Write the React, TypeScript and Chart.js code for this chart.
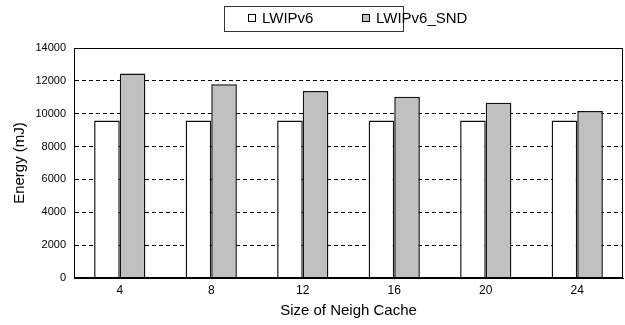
import React, { useEffect, useRef } from 'react';
import { Chart, registerables } from 'chart.js';

Chart.register(...registerables);

const categories = ['4', '8', '12', '16', '20', '24'];
const seriesLabels = ['LWIPv6', 'LWIPv6_SND'];
const lwipv6 = [9580, 9580, 9580, 9580, 9580, 9580];
const lwipv6Snd = [12450, 11800, 11390, 11040, 10660, 10170];
const yMin = 0;
const yMax = 14000;
const yStep = 2000;
const xTitle = 'Size of Neigh Cache';
const yTitle = 'Energy (mJ)';

const FONT = "'Liberation Sans', Arial, sans-serif";

const framePlugin = {
  id: 'frame',
  afterDatasetsDraw(chart: any) {
    const { ctx, chartArea } = chart;
    ctx.save();
    ctx.strokeStyle = '#000';
    ctx.lineWidth = 1;
    ctx.setLineDash([]);
    const l = Math.round(chartArea.left) + 0.5;
    const t = Math.round(chartArea.top) + 0.5;
    const r = Math.round(chartArea.right) - 0.5;
    const b = Math.round(chartArea.bottom) - 0.5;
    ctx.strokeRect(l, t, r - l, b - t);
    ctx.restore();
  },
};

const legendPlugin = {
  id: 'boxLegend',
  afterDraw(chart: any) {
    const { ctx } = chart;
    const ds = chart.data.datasets;
    ctx.save();
    ctx.setLineDash([]);
    ctx.strokeStyle = '#333';
    ctx.lineWidth = 1;
    ctx.strokeRect(224.5, 6.5, 179, 25);
    ctx.font = `15px ${FONT}`;
    ctx.textBaseline = 'middle';
    ctx.textAlign = 'left';
    ds.forEach((d: any, i: number) => {
      const x = 248 + i * 114;
      ctx.fillStyle = d.backgroundColor;
      ctx.fillRect(x, 14, 8, 8);
      ctx.strokeStyle = '#000';
      ctx.strokeRect(x + 0.5, 14.5, 7, 7);
      ctx.fillStyle = '#000';
      ctx.fillText(d.label, x + 14, 18.5);
    });
    ctx.restore();
  },
};

export default function App() {
  const canvasRef = useRef<HTMLCanvasElement | null>(null);

  useEffect(() => {
    if (!canvasRef.current) return;
    const chart = new Chart(canvasRef.current, {
      type: 'bar',
      data: {
        labels: categories,
        datasets: [
          {
            label: seriesLabels[0],
            data: lwipv6,
            backgroundColor: '#ffffff',
            borderColor: '#111',
            borderWidth: 1.5,
            categoryPercentage: 0.56,
            barPercentage: 1.0,
          },
          {
            label: seriesLabels[1],
            data: lwipv6Snd,
            backgroundColor: '#c0c0c0',
            borderColor: '#111',
            borderWidth: 1.5,
            categoryPercentage: 0.56,
            barPercentage: 1.0,
          },
        ],
      },
      options: {
        animation: false,
        responsive: true,
        maintainAspectRatio: false,
        layout: { padding: { left: 0, right: 2, top: 48, bottom: 0 } },
        plugins: {
          legend: { display: false },
          tooltip: { enabled: false },
        },
        scales: {
          x: {
            grid: { display: false, drawTicks: false },
            border: { display: true, color: '#000', width: 1 },
            ticks: { color: '#000', font: { family: FONT, size: 12 }, padding: 5 },
            title: {
              display: true,
              text: xTitle,
              color: '#000',
              font: { family: FONT, size: 15 },
              padding: { top: 0, bottom: 5 },
            },
            afterFit(scale: any) {
              scale.height = 47;
            },
          },
          y: {
            min: yMin,
            max: yMax,
            ticks: {
              stepSize: yStep,
              color: '#000',
              font: { family: FONT, size: 11 },
              padding: 8,
              callback: (v: any) => String(v),
            },
            grid: {
              color: '#000',
              lineWidth: 1,
              drawTicks: false,
            },
            border: { display: true, color: '#000', dash: [4, 3] },
            title: {
              display: true,
              text: yTitle,
              color: '#000',
              font: { family: FONT, size: 15 },
              padding: { top: 11, bottom: 0 },
            },
            afterFit(scale: any) {
              scale.width = 74;
            },
          },
        },
      },
      plugins: [framePlugin, legendPlugin],
    } as any);
    return () => chart.destroy();
  }, []);

  return (
    <div style={{ position: 'absolute', left: 0, top: 0, width: 625, height: 325, background: '#fff' }}>
      <canvas ref={canvasRef} />
    </div>
  );
}
